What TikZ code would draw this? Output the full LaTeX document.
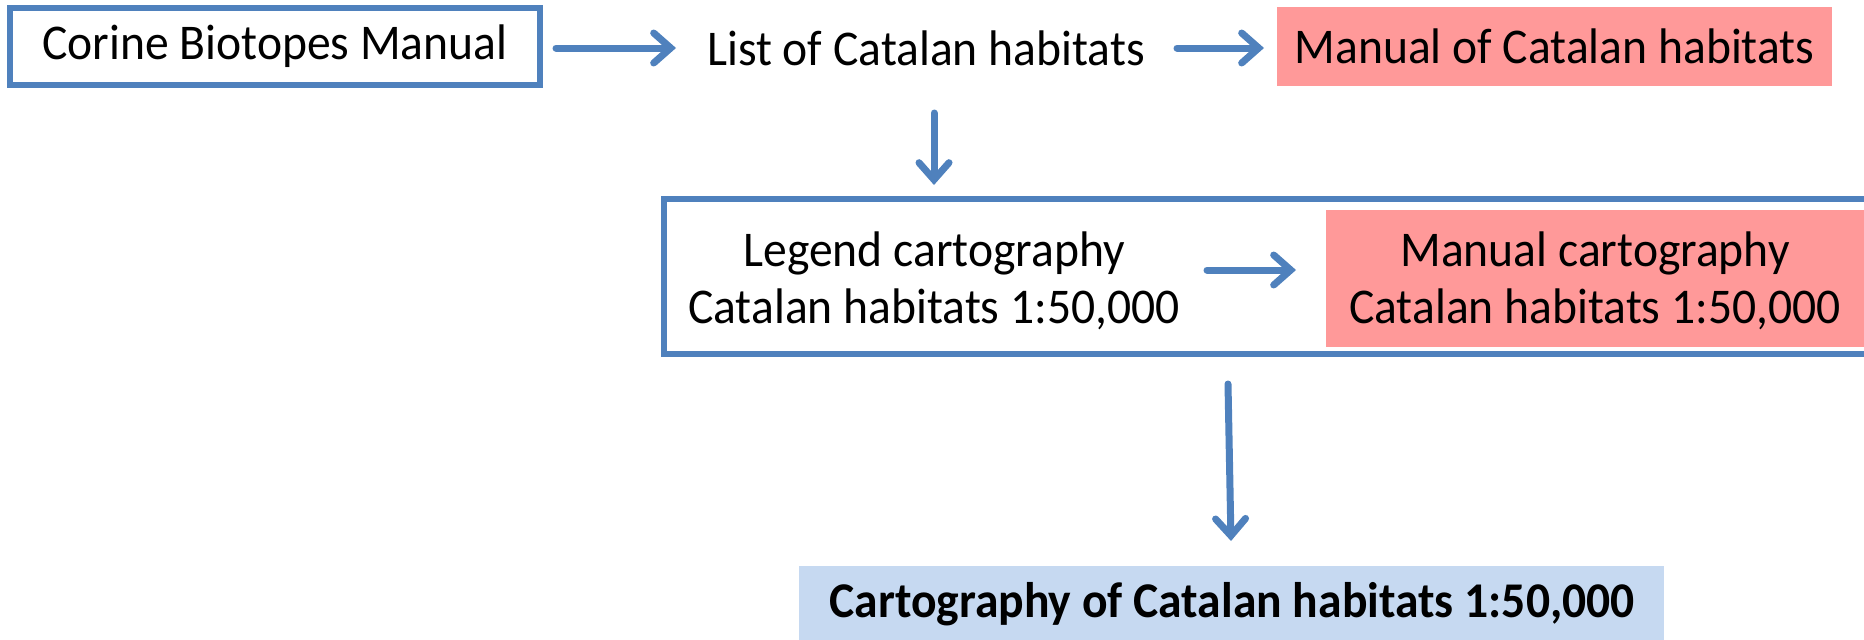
\documentclass[tikz,border=0pt]{standalone}
\usepackage{fontspec}
\setmainfont{Carlito}[FakeStretch=0.952]
\usetikzlibrary{arrows.meta}
\definecolor{flowblue}{HTML}{4F81BD}
\definecolor{notepink}{HTML}{FF9999}
\definecolor{resultblue}{HTML}{C6D9F1}
\begin{document}
\begin{tikzpicture}[x=1pt,y=-1pt,
  every node/.style={font=\fontsize{50pt}{57pt}\selectfont, inner sep=0pt, align=center},
  framebox/.style={draw=flowblue, line width=6pt, rectangle},
  pinkbox/.style={fill=notepink, rectangle},
  resultbox/.style={fill=resultblue, rectangle},
  flow/.style={draw=flowblue, line width=7pt, line cap=round,
    -{Straight Barb[length=17pt, width=30pt, line width=7pt, line cap=round, line join=miter]}}
]
\useasboundingbox (0,0) rectangle (1864,640);
\clip (0,0) rectangle (1864,640);

% top row
\node[framebox, minimum width=530pt, minimum height=77pt] (corine) at (275,46.5) {Corine Biotopes Manual};
\node (list) at (926,48) {List of Catalan habitats};
\node[pinkbox, minimum width=555pt, minimum height=79pt] (manual) at (1554.5,46.5) {Manual of Catalan habitats};

% middle frame with legend and manual
\node[framebox, minimum width=1206pt, minimum height=155pt] (frame) at (1267,276.5) {};
\node (legend) at (934,281) {Legend cartography\\Catalan habitats 1:50,000};
\node[pinkbox, minimum width=538pt, minimum height=137pt] (mancart) at (1595,278.5) {};
\node (mancarttext) at (1595,281) {Manual cartography\\Catalan habitats 1:50,000};

% result
\node[resultbox, minimum width=865pt, minimum height=80pt] (result) at (1231.5,606) {};
\node[font=\fontsize{50pt}{57pt}\selectfont\bfseries] (resulttext) at (1232,604) {Cartography of Catalan habitats 1:50,000};

% connector ends
\coordinate (a1s) at (556,48);  \coordinate (a1e) at (676,48);
\coordinate (a2s) at (1177,48); \coordinate (a2e) at (1264,48);
\coordinate (a3s) at (934,113); \coordinate (a3e) at (934,185);
\coordinate (a4s) at (1207,270); \coordinate (a4e) at (1296,270);
\coordinate (a5s) at (1228,384); \coordinate (a5e) at (1231,541);

\draw[flow] (a1s) -- (a1e);
\draw[flow] (a2s) -- (a2e);
\draw[flow] (a3s) -- (a3e);
\draw[flow] (a4s) -- (a4e);
\draw[flow] (a5s) -- (a5e);
\end{tikzpicture}
\end{document}
